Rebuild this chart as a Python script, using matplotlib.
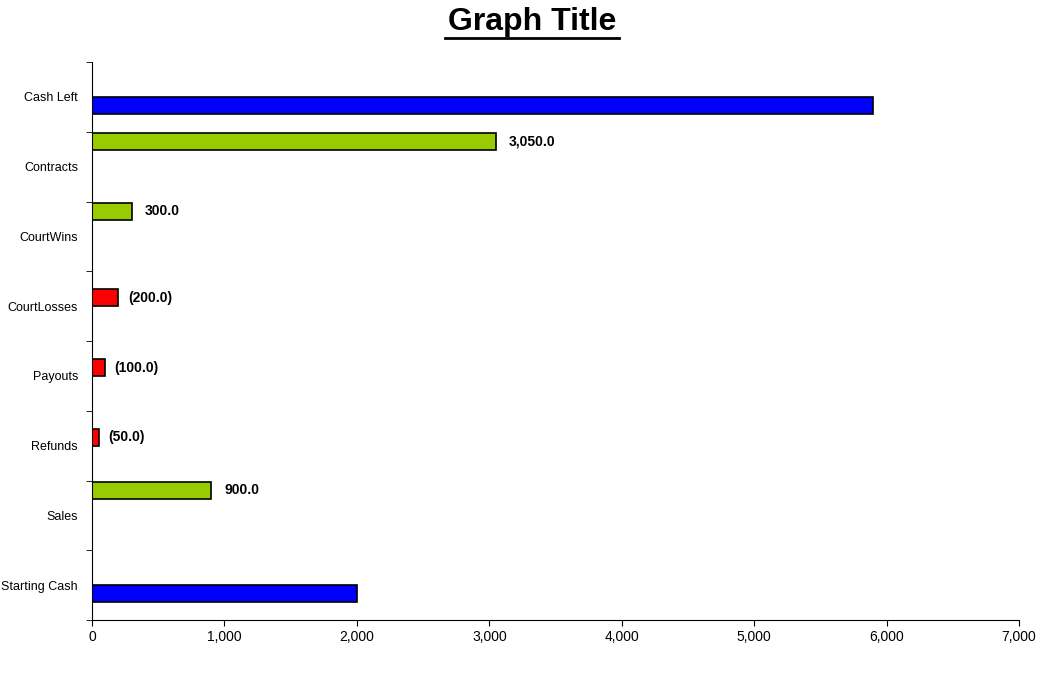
import matplotlib
matplotlib.use("Agg")
import matplotlib.pyplot as plt
from matplotlib.lines import Line2D
import numpy as np

plt.rcParams['font.family'] = ['Liberation Sans', 'DejaVu Sans']

categories = ["Starting Cash", "Sales", "Refunds", "Payouts", "CourtLosses", "CourtWins", "Contracts", "Cash Left"]
totals = [2000, 0, 0, 0, 0, 0, 0, 5900]
losses = [0, 0, 50, 100, 200, 0, 0, 0]
gains = [0, 900, 0, 0, 0, 300, 3050, 0]

fig = plt.figure(figsize=(10.61, 6.87), dpi=100)
ax = fig.add_axes([92/1061, (687-620)/687, (1019-92)/1061, (620-62)/687])
y = np.arange(len(categories))
h = 0.245
ax.barh(y - 0.12, totals, height=h, color="#0000FF", edgecolor="black", linewidth=1.2)
ax.barh(y + 0.12, losses, height=h, color="#FF0000", edgecolor="black", linewidth=1.2)
ax.barh(y + 0.36, gains, height=h, color="#99CC00", edgecolor="black", linewidth=1.2)
for i in y:
    if losses[i]:
        ax.text(losses[i] + 70, i + 0.12, f"({losses[i]:,.1f})", va="center", fontsize=10, fontweight="bold")
    if gains[i]:
        ax.text(gains[i] + 100, i + 0.36, f"{gains[i]:,.1f}", va="center", fontsize=10, fontweight="bold")

ax.set_xlim(0, 7000)
ax.set_ylim(-0.5, len(categories) - 0.5)
ax.set_xticks(range(0, 7001, 1000))
ax.set_xticklabels([f"{v:,}" for v in range(0, 7001, 1000)], fontsize=10)
ax.set_yticks(y)
ax.set_yticklabels(categories, fontsize=9)
ax.tick_params(axis='y', length=0, pad=10)
ax.set_yticks(np.arange(-0.5, len(categories), 1), minor=True)
ax.tick_params(axis='y', which='minor', length=4)
ax.tick_params(axis='x', length=4)
for s in ["top", "right"]:
    ax.spines[s].set_visible(False)

fig.text(532/1061, 1 - 22/687, "Graph Title", ha="center", va="center", fontsize=23, fontweight="bold")
fig.add_artist(Line2D([445/1061, 619/1061], [1 - 38/687, 1 - 38/687], color="black", linewidth=2))
fig.savefig("out.png", dpi=100)
